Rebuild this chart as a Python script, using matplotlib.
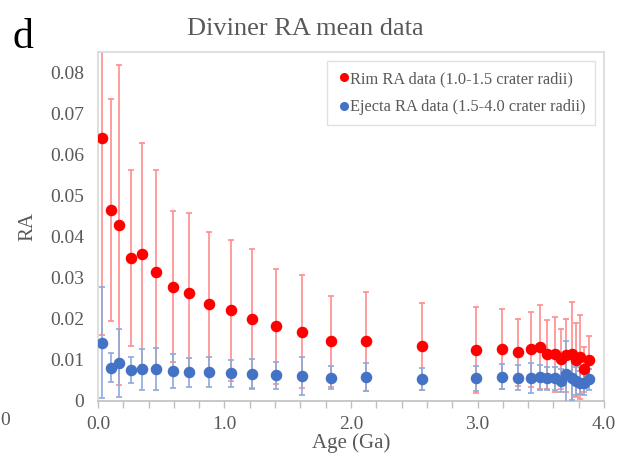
import numpy as np
import matplotlib
matplotlib.use("Agg")
import matplotlib.pyplot as plt
from matplotlib.lines import Line2D

# ages (Ga) of the crater groups
age = [0.03, 0.10, 0.17, 0.26, 0.35, 0.46, 0.59, 0.72, 0.88, 1.05,
       1.22, 1.41, 1.61, 1.84, 2.12, 2.56, 2.99, 3.19, 3.32, 3.42,
       3.49, 3.55, 3.61, 3.66, 3.70, 3.745, 3.775, 3.81, 3.84, 3.88]

# rim RA (1.0-1.5 crater radii)
ra_rim = [0.0640, 0.0465, 0.0428, 0.0348, 0.0358, 0.0315, 0.0279, 0.0262, 0.0237, 0.0221,
          0.0201, 0.0182, 0.0169, 0.0145, 0.0145, 0.0133, 0.0125, 0.0127, 0.0119, 0.0126,
          0.0131, 0.0114, 0.0114, 0.0103, 0.0111, 0.0115, 0.0099, 0.0107, 0.0077, 0.0100]
err_rim = [0.048, 0.027, 0.039, 0.0215, 0.027, 0.0247, 0.0185, 0.0197, 0.0175, 0.0172,
           0.0169, 0.0140, 0.0137, 0.0112, 0.0120, 0.0106, 0.0105, 0.0097, 0.0082, 0.0092,
           0.0102, 0.0084, 0.0091, 0.0073, 0.0088, 0.0126, 0.0090, 0.0102, 0.0055, 0.0059]

# ejecta RA (1.5-4.0 crater radii)
ra_ej = [0.0142, 0.0081, 0.0093, 0.0075, 0.0077, 0.0077, 0.0073, 0.0070, 0.0070, 0.0067,
         0.0066, 0.0063, 0.0061, 0.0057, 0.0058, 0.0054, 0.0055, 0.0059, 0.0057, 0.0056,
         0.0058, 0.0055, 0.0055, 0.0049, 0.0065, 0.0055, 0.0049, 0.0045, 0.0044, 0.0053]
err_ej = [0.0135, 0.0035, 0.0083, 0.0032, 0.0049, 0.0051, 0.0041, 0.0035, 0.0037, 0.0033,
          0.0037, 0.0033, 0.0046, 0.0028, 0.0034, 0.0027, 0.0031, 0.0030, 0.0031, 0.0037,
          0.0030, 0.0028, 0.0028, 0.0028, 0.0080, 0.0053, 0.0035, 0.0027, 0.0030, 0.0025]

xticks = [0.0, 1.0, 2.0, 3.0, 4.0]
yticks = [0, 0.01, 0.02, 0.03, 0.04, 0.05, 0.06, 0.07, 0.08]

plt.rcParams['font.family'] = ['Liberation Serif', 'DejaVu Serif']

red = '#ff0000'
blue = '#4472c4'
grey = '#595959'

fig = plt.figure(figsize=(6.26, 4.66), dpi=100)
ax = fig.add_axes([0.1565, 0.1395, 0.8085, 0.7485])

# error bars first, markers on top
ax.errorbar(age, ra_rim, yerr=err_rim, fmt='none', ecolor='#ff8c8c',
            elinewidth=1.2, capsize=2, capthick=1.2, zorder=2)
ax.errorbar(age, ra_ej, yerr=err_ej, fmt='none', ecolor='#8eaadb',
            elinewidth=1.2, capsize=2, capthick=1.2, zorder=3)
ax.plot(age, ra_rim, 'o', color=red, markersize=7.3, zorder=4)
ax.plot(age, ra_ej, 'o', color=blue, markersize=7.3, zorder=5)

ax.set_xlim(0, 4.0)
ax.set_ylim(0, 0.085)
ax.set_xticks(xticks)
ax.set_xticklabels([f'{t:.1f}' for t in xticks])
ax.set_xticks(np.arange(0, 4.01, 0.2), minor=True)
ax.set_yticks(yticks)
ax.set_yticklabels(['0'] + [f'{t:.2f}' for t in yticks[1:]])

ax.tick_params(axis='x', which='both', direction='out', length=5, width=1,
               color='#bfbfbf', labelsize=14, labelcolor=grey, pad=6)
ax.tick_params(axis='y', length=0, labelsize=14, labelcolor=grey, pad=10)

for s in ['top', 'right', 'left']:
    ax.spines[s].set_color('#d9d9d9')
    ax.spines[s].set_linewidth(1.2)
ax.spines['bottom'].set_color('#bfbfbf')
ax.spines['bottom'].set_linewidth(1.2)

ax.set_xlabel('Age (Ga)', fontsize=15, color=grey, labelpad=0)
ax.set_ylabel('RA', fontsize=15, color=grey, labelpad=9)

fig.text(0.487, 0.938, 'Diviner RA mean data', fontsize=19, color=grey,
         ha='center', va='center')
fig.text(0.036, 0.92, 'd', fontsize=30, color='black', ha='center', va='center')
fig.text(0.001, 0.097, '0', fontsize=14, color=grey, ha='left', va='center')

handles = [Line2D([], [], marker='o', ls='none', color=red, markersize=5.5),
           Line2D([], [], marker='o', ls='none', color=blue, markersize=5.5)]
leg = ax.legend(handles, ['Rim RA data (1.0-1.5 crater radii)',
                          'Ejecta RA data (1.5-4.0 crater radii)'],
                loc='upper right', bbox_to_anchor=(0.982, 0.974), borderaxespad=0,
                fontsize=11.8, frameon=True, fancybox=False, handletextpad=-0.1,
                handlelength=0.9, borderpad=0.6, labelspacing=0.75,
                labelcolor=grey)
leg.get_frame().set_edgecolor('#d9d9d9')
leg.get_frame().set_linewidth(1.0)

fig.savefig('out.png', dpi=100)
